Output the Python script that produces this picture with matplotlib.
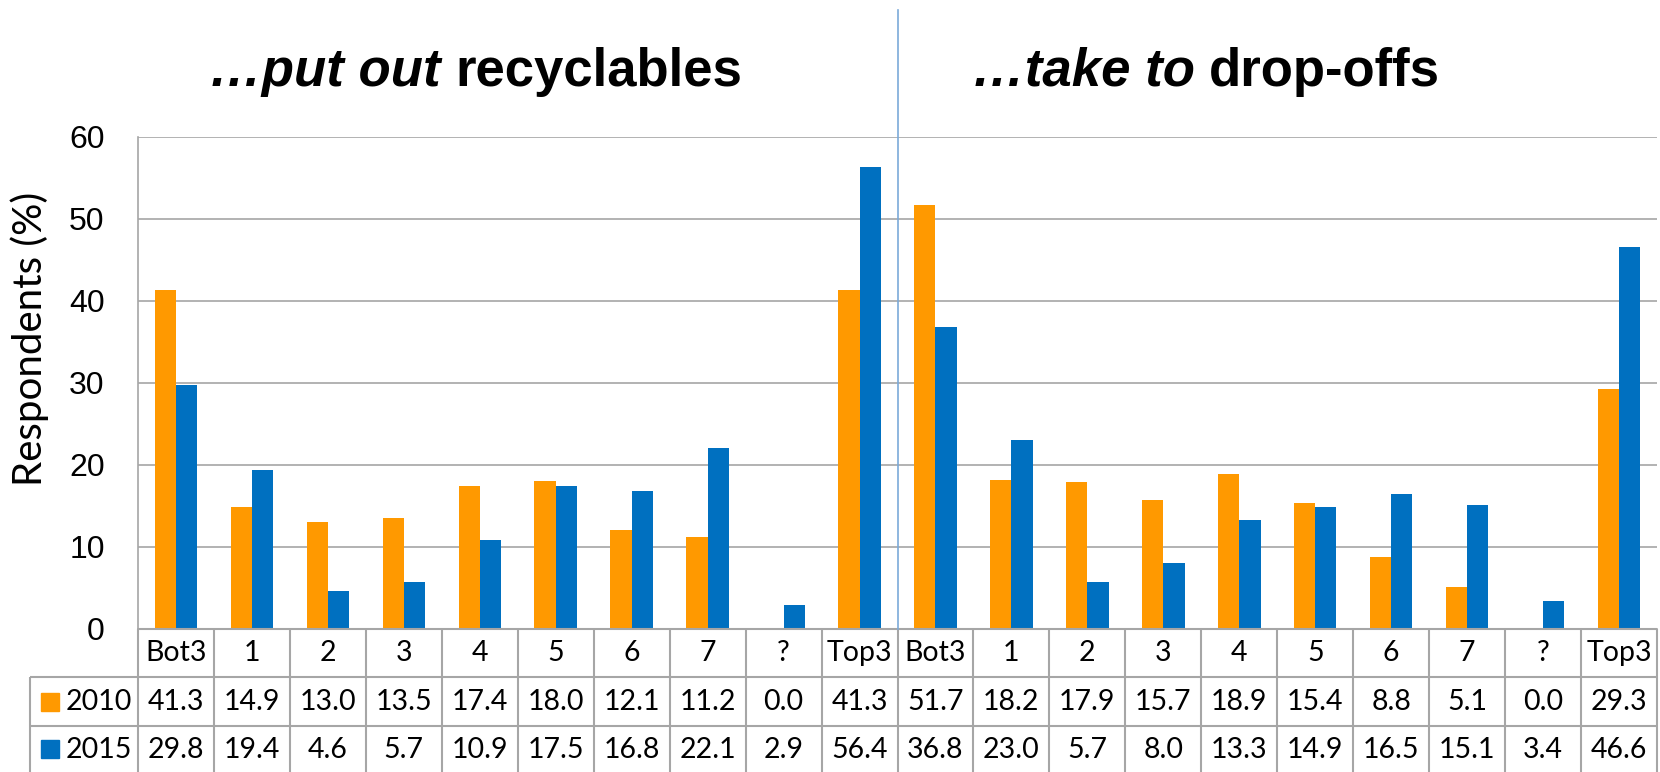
import matplotlib
matplotlib.use("Agg")
import matplotlib.pyplot as plt
from matplotlib.patches import Rectangle
import numpy as np

categories = ["Bot3", "1", "2", "3", "4", "5", "6", "7", "?", "Top3",
              "Bot3", "1", "2", "3", "4", "5", "6", "7", "?", "Top3"]
values_2010 = [41.3, 14.9, 13.0, 13.5, 17.4, 18.0, 12.1, 11.2, 0.0, 41.3,
               51.7, 18.2, 17.9, 15.7, 18.9, 15.4, 8.8, 5.1, 0.0, 29.3]
values_2015 = [29.8, 19.4, 4.6, 5.7, 10.9, 17.5, 16.8, 22.1, 2.9, 56.4,
               36.8, 23.0, 5.7, 8.0, 13.3, 14.9, 16.5, 15.1, 3.4, 46.6]
series_names = ["2010", "2015"]
panel_titles = [("\u2026put out", "recyclables"), ("\u2026take to", "drop-offs")]

ORANGE = "#FF9900"
BLUE = "#0070C0"
GRID = "#A6A6A6"
W, H = 1660, 772

fig = plt.figure(figsize=(W / 100, H / 100), dpi=100)

# main bar axes
top_px, bot_px, left_px, right_px = 137, 629, 138, 1657
ax = fig.add_axes([left_px / W, 1 - bot_px / H, (right_px - left_px) / W, (bot_px - top_px) / H])
x = np.arange(len(categories))
bw = 0.28
ax.bar(x - bw / 2, values_2010, bw, color=ORANGE, zorder=3)
ax.bar(x + bw / 2, values_2015, bw, color=BLUE, zorder=3)
ax.set_xlim(-0.5, len(categories) - 0.5)
ax.set_ylim(0, 60)
ax.set_yticks(range(0, 61, 10))
ax.set_xticks([])
ax.yaxis.grid(True, color=GRID, lw=1.2, zorder=0)
for s in ["top", "right"]:
    ax.spines[s].set_visible(False)
ax.spines["left"].set_color(GRID)
ax.spines["left"].set_linewidth(1.2)
ax.spines["bottom"].set_color(GRID)
ax.spines["bottom"].set_linewidth(1.2)
ax.tick_params(axis="y", length=0, pad=24, labelsize=23)
for lab in ax.get_yticklabels():
    lab.set_fontfamily("Liberation Sans")

# overlay in pixel coordinates (y from top)
ov = fig.add_axes([0, 0, 1, 1])
ov.set_xlim(0, W)
ov.set_ylim(H, 0)
ov.axis("off")
ov.patch.set_alpha(0)

def col_px(xv):
    return ax.transData.transform((xv, 0))[0]

edges = [col_px(i - 0.5) for i in range(len(categories) + 1)]
row_y = [629, 677, 726, 772]
leg_left = 30
tkw = dict(color=GRID, lw=1.5, solid_capstyle="butt")
ov.plot([edges[0], edges[-1]], [row_y[0]] * 2, **tkw)
for yy in row_y[1:3]:
    ov.plot([leg_left, edges[-1]], [yy] * 2, **tkw)
for e in edges:
    ov.plot([e, e], [row_y[0], row_y[3]], **tkw)
ov.plot([leg_left, leg_left], [row_y[1], row_y[3]], **tkw)

tab_font = dict(family="Lato", fontsize=20.5, ha="center", va="center", color="black")
for i, cat in enumerate(categories):
    cx = (edges[i] + edges[i + 1]) / 2
    ov.text(cx, (row_y[0] + row_y[1]) / 2, cat, **tab_font)
    ov.text(cx, (row_y[1] + row_y[2]) / 2 + 1, f"{values_2010[i]:.1f}", **tab_font)
    ov.text(cx, (row_y[2] + row_y[3]) / 2 + 1, f"{values_2015[i]:.1f}", **tab_font)

for k, (name, col) in enumerate(zip(series_names, [ORANGE, BLUE])):
    cy = (row_y[k + 1] + row_y[k + 2]) / 2
    ov.add_patch(Rectangle((41, cy - 9), 18, 18, color=col))
    ov.text(66, cy + 1, name, family="Lato", fontsize=20.5, ha="left", va="center")

# divider between the two panels
mid = col_px(9.5)
ov.plot([mid, mid], [10, 629], color="#7BAAD9", lw=1.2)

# y label
ov.text(30, 339, "Respondents (%)", family="Lato", fontsize=29, rotation=90,
        ha="center", va="center")

# panel titles: italic part + bold part, centred over each half
fig.canvas.draw()
renderer = fig.canvas.get_renderer()
title_centres = [476, 1206]
for (ital, bold), cxp in zip(panel_titles, title_centres):
    t1 = ov.text(0, 72, ital + " ", family="Liberation Sans", fontsize=38,
                 fontweight="bold", fontstyle="italic", ha="left", va="center")
    t2 = ov.text(0, 72, bold, family="Liberation Sans", fontsize=38,
                 fontweight="bold", ha="left", va="center")
    w1 = t1.get_window_extent(renderer).width
    w2 = t2.get_window_extent(renderer).width
    start = cxp - (w1 + w2) / 2
    t1.set_x(start)
    t2.set_x(start + w1)

fig.savefig("out.png", dpi=100)
